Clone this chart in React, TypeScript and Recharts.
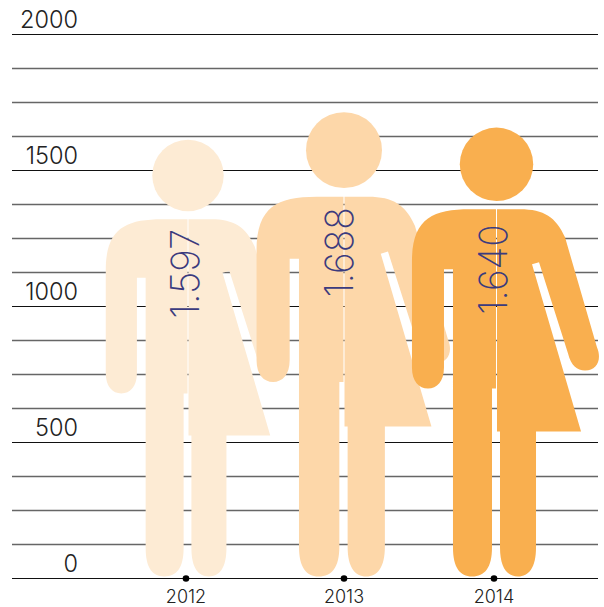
import { BarChart, Bar, XAxis, YAxis, CartesianGrid } from 'recharts';

const YEARS = ['2012', '2013', '2014'];
const VALUES = [1597, 1688, 1640];
const VALUE_LABELS = ['1.597', '1.688', '1.640'];
const COLORS = ['#FDEBD4', '#FDD7A9', '#F9AF4F'];
const TICKS = [0, 125, 250, 375, 500, 625, 750, 875, 1000, 1125, 1250, 1375, 1500, 1625, 1750, 1875, 2000];
const MAJOR_TICKS = [0, 500, 1000, 1500, 2000];

const chartData = YEARS.map((year, i) => ({ year, value: VALUES[i] }));

const FONT = 'Inter, "Open Sans", sans-serif';

// the three figures are not evenly spaced in the picture
const TICK_SHIFT: Record<string, number> = { '2012': 0, '2013': 4, '2014': 0 };
const FIGURE_SHIFT = [2, 4, 2.5];
const FIGURE_OVERSIZE = [1.006, 1.012, 1.007];
const LABEL_SHIFT = [0, -5, 3];

// figure outline, in a 186 x 449 box
const LEFT_HALF =
  'M84 82 L58 82 C20 82 0 92 0 134 L0 240 C0 254 7 261 16 261 C25 261 32 254 32 240 L32 142 L41 142 ' +
  'L41 420 C41 440 48 449 60 449 C73 449 80 440 80 420 L80 261 L84 261 Z';
const RIGHT_HALF =
  'M85 82 L108 82 C132 82 144 90 153 110 L185 220 C190 232 185 243 173 243 C165 243 159 238 156 226 ' +
  'L127 135 L120 137 L169 304 L124 304 L124 420 C124 440 117 449 106 449 C95 449 88 440 88 420 L88 304 L85 304 Z';

function Figure(props: any) {
  const { x, y, width, height, index } = props;
  const scale = (height * FIGURE_OVERSIZE[index]) / 449;
  const bottom = y + height - 2;
  const center = x + width / 2;
  const left = center + FIGURE_SHIFT[index] - 84.5 * scale;
  const top = bottom - 449 * scale;
  const labelX = center + 13;
  const labelY = top + 0.41 * 449 * scale + LABEL_SHIFT[index];
  return (
    <g>
      <g transform={`translate(${left} ${top}) scale(${scale})`} fill={COLORS[index]}>
        <circle cx={84.5} cy={37} r={36.7} />
        <path d={LEFT_HALF} />
        <path d={RIGHT_HALF} />
      </g>
      <text
        transform={`translate(${labelX} ${labelY}) rotate(-90)`}
        fontFamily={FONT}
        fontWeight={200}
        fontSize={39}
        textLength={90}
        lengthAdjust="spacingAndGlyphs"
        fill="#3B3B7E"
      >
        {VALUE_LABELS[index]}
      </text>
    </g>
  );
}

function YTick({ y, payload }: any) {
  if (!MAJOR_TICKS.includes(payload.value)) return null;
  return (
    <text x={78} y={y - 6.5} textAnchor="end" fontFamily={FONT} fontWeight={300} fontSize={23.5} fill="#222">
      {payload.value}
    </text>
  );
}

function XTick({ x, payload }: any) {
  const cx = x + TICK_SHIFT[payload.value];
  return (
    <g>
      <circle cx={cx} cy={578.5} r={3.3} fill="#000" />
      <text x={cx} y={602.5} textAnchor="middle" fontFamily={FONT} fontWeight={300} fontSize={18} fill="#222">
        {payload.value}
      </text>
    </g>
  );
}

function GridLine({ x1, x2, y1, y2, index }: any) {
  const major = index % 4 === 0;
  return <line x1={x1} x2={x2} y1={y1} y2={y2} stroke={major ? '#111' : '#666'} strokeWidth={major ? 1 : 1.4} />;
}

export default function App() {
  return (
    <div style={{ position: 'absolute', left: 0, top: 0, width: 604, height: 607 }}>
      <BarChart
        width={604}
        height={607}
        data={chartData}
        margin={{ top: 34.5, right: 6, bottom: 27.5, left: 11 }}
      >
        <CartesianGrid vertical={false} horizontal={(p: any) => <GridLine key={p.key ?? p.index} {...p} />} />
        <XAxis
          dataKey="year"
          height={1}
          padding={{ left: 97, right: 27 }}
          axisLine={false}
          tickLine={false}
          interval={0}
          tick={XTick}
        />
        <YAxis
          width={1}
          domain={[0, 2000]}
          ticks={TICKS}
          interval={0}
          axisLine={false}
          tickLine={false}
          tick={YTick}
        />
        <Bar dataKey="value" barSize={60} shape={Figure} isAnimationActive={false} />
      </BarChart>
    </div>
  );
}
